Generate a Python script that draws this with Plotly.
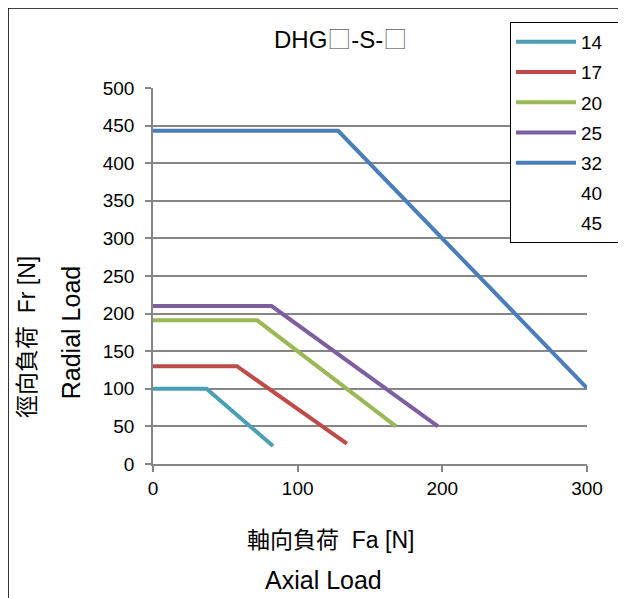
import plotly.graph_objects as go

# series names (model sizes) and their load curves
sizes = ["14", "17", "20", "25", "32", "40", "45"]
fa = {
    "14": [0, 37, 83],
    "17": [0, 58, 134],
    "20": [0, 72, 168],
    "25": [0, 82, 197],
    "32": [0, 128, 300],
    "40": [],
    "45": [],
}
fr = {
    "14": [100, 100, 24],
    "17": [130, 130, 27],
    "20": [191, 191, 50],
    "25": [210, 210, 50],
    "32": [443, 443, 101],
    "40": [],
    "45": [],
}
colors = {
    "14": "#4A9FB2",
    "17": "#BE4B48",
    "20": "#98B954",
    "25": "#7D5FA0",
    "32": "#4A7EBB",
    "40": "rgba(0,0,0,0)",
    "45": "rgba(0,0,0,0)",
}
x_ticks = [0, 100, 200, 300]
y_ticks = list(range(0, 501, 50))

FONT = "Liberation Sans, Arial, Noto Sans CJK JP, sans-serif"
BOX = '<span style="font-family:Noto Sans CJK JP;color:#7a7a7a">□</span>'

fig = go.Figure()
for s in sizes:
    fig.add_trace(
        go.Scatter(
            x=fa[s] if fa[s] else [None],
            y=fr[s] if fr[s] else [None],
            mode="lines",
            line=dict(color=colors[s], width=4),
            name=s + "  ",
            legendgroup=s,
        )
    )

# outer frame of the chart area (cut off at right/bottom in the original)
fig.add_shape(
    type="rect", xref="paper", yref="paper",
    x0=-0.334, x1=2, y0=-2, y1=1.2128,
    line=dict(color="black", width=1.5),
    layer="below",
)


def label(text, x, y, size, angle=0):
    fig.add_annotation(
        text=text, xref="paper", yref="paper", x=x, y=y,
        xanchor="center", yanchor="middle", textangle=angle,
        showarrow=False, font=dict(size=size, color="black", family=FONT),
    )


label("DHG" + BOX + "-S-" + BOX, 0.431, 1.133, 24)
label("徑向負荷  Fr [N]", -0.29, 0.338, 23, -90)
label("Radial Load", -0.187, 0.35, 25, -90)
label("軸向負荷  Fa [N]", 0.408, -0.202, 23)
label("Axial Load", 0.392, -0.309, 25)

fig.update_layout(
    width=626,
    height=598,
    margin=dict(l=145, r=47, t=80, b=142),
    paper_bgcolor="white",
    plot_bgcolor="white",
    font=dict(family=FONT, size=19, color="black"),
    showlegend=True,
    legend=dict(
        x=0.8226, y=1.1755, xanchor="left", yanchor="top",
        bgcolor="white", bordercolor="black", borderwidth=1,
        font=dict(size=19),
        tracegroupgap=2.5,
        itemwidth=60,
        traceorder="grouped",
    ),
    xaxis=dict(
        range=[0, 300], tickvals=x_ticks, showgrid=False, zeroline=False,
        showline=True, linecolor="#868686", linewidth=1.5,
        ticks="outside", ticklen=6, tickcolor="#868686", tickwidth=1.5,
        tickfont=dict(size=19),
    ),
    yaxis=dict(
        range=[0, 500], tickvals=y_ticks, showgrid=True, gridcolor="#868686",
        gridwidth=1.5, zeroline=False,
        showline=True, linecolor="#868686", linewidth=1.5,
        ticks="outside", ticklen=6, tickcolor="#868686", tickwidth=1.5,
        ticklabelstandoff=7,
        tickfont=dict(size=19),
    ),
)

fig.write_html("out.html")
